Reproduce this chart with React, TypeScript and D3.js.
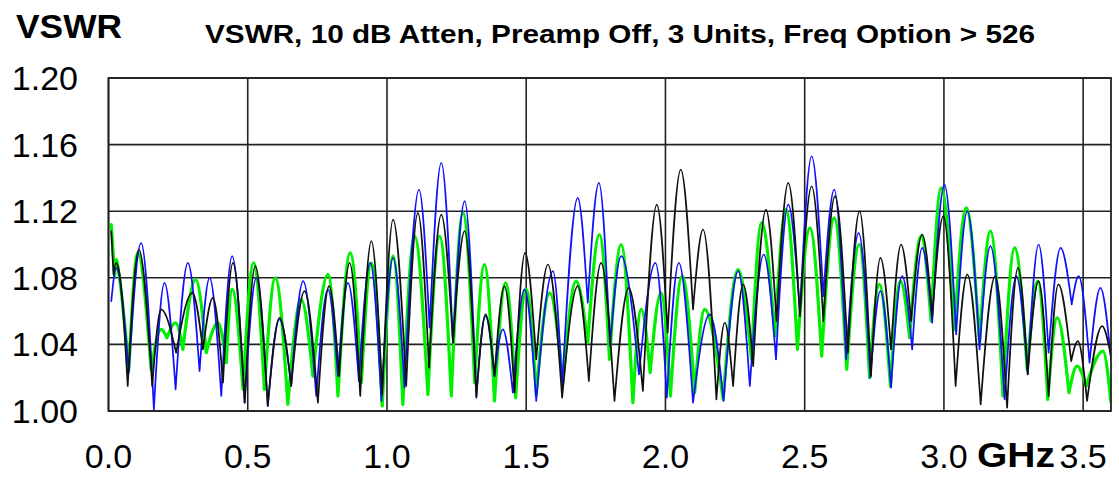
import React from "react";
import * as d3 from "d3";

// VSWR ripple, [GHz, VSWR] (peaks and troughs)
const blackUnit: [number, number][] = [
  [0.010, 1.108], [0.018, 1.082], [0.027, 1.089], [0.040, 1.082], [0.069, 1.015], [0.109, 1.097],
  [0.157, 1.015], [0.189, 1.061], [0.243, 1.035], [0.301, 1.071], [0.339, 1.037], [0.375, 1.068],
  [0.411, 1.017], [0.447, 1.089], [0.489, 1.005], [0.527, 1.087], [0.572, 1.003], [0.614, 1.056],
  [0.656, 1.015], [0.704, 1.072], [0.752, 1.005], [0.792, 1.075], [0.828, 1.021], [0.866, 1.089],
  [0.904, 1.009], [0.944, 1.102], [0.983, 1.010], [1.022, 1.115], [1.069, 1.015], [1.111, 1.119],
  [1.151, 1.026], [1.195, 1.118], [1.237, 1.041], [1.279, 1.108], [1.321, 1.008], [1.354, 1.058],
  [1.386, 1.021], [1.422, 1.075], [1.458, 1.011], [1.496, 1.095], [1.536, 1.031], [1.578, 1.088],
  [1.629, 1.008], [1.685, 1.075], [1.725, 1.018], [1.769, 1.089], [1.817, 1.006], [1.868, 1.074],
  [1.919, 1.012], [1.969, 1.124], [2.008, 1.047], [2.055, 1.145], [2.099, 1.061], [2.135, 1.109],
  [2.183, 1.007], [2.213, 1.053], [2.243, 1.015], [2.279, 1.076], [2.315, 1.027], [2.361, 1.121],
  [2.399, 1.054], [2.441, 1.137], [2.483, 1.057], [2.525, 1.135], [2.567, 1.054], [2.609, 1.129],
  [2.655, 1.035], [2.697, 1.120], [2.738, 1.021], [2.772, 1.092], [2.810, 1.037], [2.846, 1.100],
  [2.882, 1.054], [2.922, 1.106], [2.958, 1.057], [2.998, 1.117], [3.042, 1.015], [3.084, 1.082],
  [3.132, 1.004], [3.184, 1.081], [3.227, 1.002], [3.266, 1.086], [3.301, 1.022], [3.340, 1.078],
  [3.376, 1.009], [3.411, 1.076], [3.457, 1.030], [3.481, 1.042], [3.514, 1.006], [3.568, 1.051],
  [3.600, 1.033],
];

const blueUnit: [number, number][] = [
  [0.010, 1.066], [0.028, 1.086], [0.073, 1.023], [0.117, 1.101], [0.163, 1.001], [0.201, 1.077],
  [0.241, 1.013], [0.285, 1.089], [0.327, 1.024], [0.363, 1.080], [0.405, 1.009], [0.444, 1.093],
  [0.489, 1.005], [0.531, 1.080], [0.572, 1.003], [0.614, 1.055], [0.656, 1.015], [0.699, 1.078],
  [0.746, 1.009], [0.788, 1.073], [0.824, 1.021], [0.860, 1.077], [0.899, 1.018], [0.940, 1.089],
  [0.980, 1.006], [1.022, 1.092], [1.063, 1.014], [1.115, 1.133], [1.153, 1.050], [1.195, 1.149],
  [1.237, 1.041], [1.279, 1.126], [1.321, 1.009], [1.354, 1.057], [1.386, 1.021], [1.416, 1.049],
  [1.452, 1.011], [1.494, 1.073], [1.536, 1.006], [1.596, 1.084], [1.629, 1.015], [1.685, 1.128],
  [1.721, 1.065], [1.761, 1.137], [1.801, 1.039], [1.841, 1.093], [1.905, 1.022], [1.964, 1.089],
  [2.005, 1.008], [2.048, 1.089], [2.099, 1.005], [2.159, 1.058], [2.209, 1.006], [2.261, 1.084],
  [2.303, 1.015], [2.353, 1.094], [2.397, 1.031], [2.441, 1.124], [2.483, 1.059], [2.525, 1.153],
  [2.567, 1.069], [2.606, 1.133], [2.649, 1.031], [2.694, 1.107], [2.736, 1.020], [2.772, 1.072],
  [2.810, 1.014], [2.850, 1.081], [2.886, 1.037], [2.922, 1.098], [2.958, 1.053], [3.002, 1.136],
  [3.044, 1.046], [3.084, 1.120], [3.128, 1.037], [3.167, 1.099], [3.218, 1.007], [3.260, 1.081],
  [3.301, 1.022], [3.340, 1.100], [3.376, 1.035], [3.419, 1.098], [3.459, 1.064], [3.484, 1.081],
  [3.523, 1.029], [3.562, 1.074], [3.600, 1.031],
];

const greenUnit: [number, number][] = [
  [0.010, 1.112], [0.022, 1.081], [0.028, 1.091], [0.037, 1.083], [0.073, 1.025], [0.105, 1.095],
  [0.153, 1.025], [0.189, 1.049], [0.210, 1.044], [0.241, 1.053], [0.267, 1.037], [0.313, 1.079],
  [0.351, 1.035], [0.393, 1.053], [0.423, 1.029], [0.444, 1.073], [0.483, 1.013], [0.521, 1.089],
  [0.560, 1.013], [0.599, 1.080], [0.644, 1.004], [0.692, 1.067], [0.734, 1.021], [0.788, 1.082],
  [0.824, 1.009], [0.868, 1.095], [0.908, 1.017], [0.944, 1.089], [0.983, 1.003], [1.022, 1.093],
  [1.057, 1.004], [1.099, 1.105], [1.147, 1.010], [1.189, 1.105], [1.231, 1.009], [1.273, 1.119],
  [1.315, 1.017], [1.350, 1.088], [1.386, 1.006], [1.426, 1.077], [1.462, 1.008], [1.500, 1.073],
  [1.536, 1.010], [1.584, 1.071], [1.632, 1.017], [1.679, 1.078], [1.721, 1.041], [1.763, 1.106],
  [1.799, 1.031], [1.841, 1.100], [1.883, 1.005], [1.913, 1.061], [1.945, 1.023], [1.984, 1.071],
  [2.018, 1.009], [2.060, 1.081], [2.105, 1.011], [2.141, 1.061], [2.207, 1.007], [2.261, 1.085],
  [2.309, 1.031], [2.345, 1.113], [2.393, 1.045], [2.433, 1.121], [2.474, 1.037], [2.519, 1.110],
  [2.561, 1.033], [2.606, 1.116], [2.651, 1.025], [2.696, 1.100], [2.733, 1.020], [2.768, 1.076],
  [2.808, 1.015], [2.844, 1.078], [2.877, 1.044], [2.918, 1.105], [2.954, 1.054], [2.990, 1.134],
  [3.038, 1.049], [3.080, 1.122], [3.128, 1.041], [3.167, 1.108], [3.212, 1.009], [3.254, 1.098],
  [3.299, 1.025], [3.337, 1.078], [3.373, 1.007], [3.407, 1.056], [3.449, 1.011], [3.478, 1.027],
  [3.511, 1.015], [3.571, 1.036], [3.600, 1.005],
];

const xTicks = [0, 0.5, 1.0, 1.5, 2.0, 2.5, 3.0, 3.5];
const xTickLabels = ["0.0", "0.5", "1.0", "1.5", "2.0", "2.5", "3.0", "3.5"];
const yTicks = [1.0, 1.04, 1.08, 1.12, 1.16, 1.2];
const yTickLabels = ["1.00", "1.04", "1.08", "1.12", "1.16", "1.20"];

const title = "VSWR, 10 dB Atten, Preamp Off, 3 Units, Freq Option > 526";

const W = 1119;
const H = 479;
const font = "'Liberation Sans', Arial, sans-serif";

export default function App() {
  const x = d3.scaleLinear().domain([0, 3.6]).range([108.5, 1111]);
  const y = d3.scaleLinear().domain([1.0, 1.2]).range([411, 78]);

  const line = d3
    .line<[number, number]>()
    .x((d) => x(d[0]))
    .y((d) => y(d[1]))
    .curve(d3.curveMonotoneX);

  // split at troughs so they stay sharp like a real VSWR ripple
  const ripple = (pts: [number, number][]) => {
    const cuts = [0];
    for (let i = 1; i < pts.length - 1; i++) {
      if (pts[i][1] < pts[i - 1][1] && pts[i][1] < pts[i + 1][1]) cuts.push(i);
    }
    cuts.push(pts.length - 1);
    return cuts
      .slice(1)
      .map((c, k) => line(pts.slice(cuts[k], c + 1)))
      .join("");
  };

  const series = [
    { pts: greenUnit, color: "#00f000", width: 3.2 },
    { pts: blueUnit, color: "#1010ff", width: 1.7 },
    { pts: blackUnit, color: "#111", width: 1.7 },
  ];

  const x0 = x(0), x1 = x(3.6), yTop = y(1.2), yBot = y(1.0);

  return (
    <svg width={W} height={H} style={{ position: "absolute", left: 0, top: 0, background: "#fff" }}>
      <defs>
        <clipPath id="plot">
          <rect x={x0} y={yTop} width={x1 - x0} height={yBot - yTop} />
        </clipPath>
      </defs>

      {/* grid */}
      {xTicks.map((t) => (
        <line key={"gx" + t} x1={x(t)} x2={x(t)} y1={yTop} y2={yBot} stroke="#222" strokeWidth={1.6} />
      ))}
      {yTicks.map((t) => (
        <line key={"gy" + t} x1={x0} x2={x1} y1={y(t)} y2={y(t)} stroke="#222" strokeWidth={1.6} />
      ))}

      <g clipPath="url(#plot)" fill="none" strokeLinecap="round" strokeLinejoin="round">
        {series.map((s, i) => (
          <path key={i} d={ripple(s.pts)} stroke={s.color} strokeWidth={s.width} />
        ))}
      </g>

      <rect x={x0} y={yTop} width={x1 - x0} height={yBot - yTop} fill="none" stroke="#222" strokeWidth={1.8} />

      {/* y labels */}
      {yTicks.map((t, i) => (
        <text key={"ly" + t} x={78} y={y(t) + 12} textAnchor="end" fontFamily={font} fontSize={34} fill="#000">
          {yTickLabels[i]}
        </text>
      ))}

      {/* x labels */}
      {xTicks.map((t, i) => (
        <text key={"lx" + t} x={x(t)} y={468} textAnchor="middle" fontFamily={font} fontSize={34} fill="#000">
          {xTickLabels[i]}
        </text>
      ))}

      <text x={977} y={467} fontFamily={font} fontSize={35} fontWeight="bold" textLength={78} lengthAdjust="spacingAndGlyphs">
        GHz
      </text>
      <text x={16} y={38} fontFamily={font} fontSize={33} fontWeight="bold" textLength={106} lengthAdjust="spacingAndGlyphs">
        VSWR
      </text>
      <text x={205} y={43} fontFamily={font} fontSize={25} fontWeight="bold" textLength={830} lengthAdjust="spacingAndGlyphs">
        {title}
      </text>
    </svg>
  );
}
